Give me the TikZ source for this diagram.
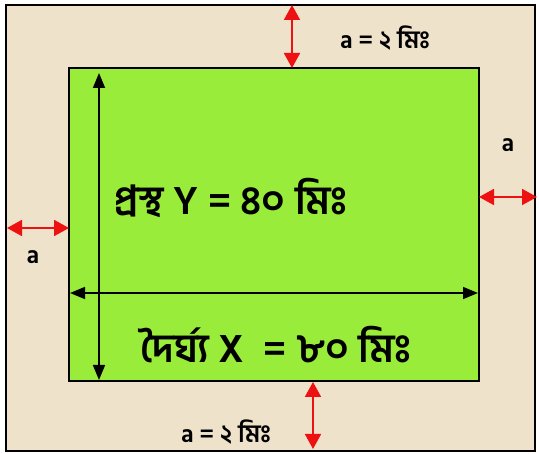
\documentclass[tikz,border=0pt]{standalone}
\usepackage{fontspec}
\usetikzlibrary{arrows.meta}
\newfontfamily\bn[Script=Bengali]{Hind Siliguri}
\definecolor{beige}{HTML}{EEE2CB}
\definecolor{leaf}{HTML}{9AEC3A}
\definecolor{redarr}{HTML}{EE1111}
\tikzset{
  redarrow/.style={draw=redarr, line width=1.8pt, {Triangle[length=15pt,width=16pt]}-{Triangle[length=15pt,width=16pt]}},
  blackarrow/.style={draw=black, line width=1.6pt, {Triangle[length=15pt,width=12pt]}-{Triangle[length=15pt,width=12pt]}},
  lbl/.style={font=\bn\bfseries, text=black, inner sep=0pt},
}
\begin{document}
\begin{tikzpicture}[x=1pt,y=-1pt]
\useasboundingbox (0,0) rectangle (539,454);
\fill[white] (0,0) rectangle (539,454);
\draw[fill=beige, line width=1.2pt] (6,5) rectangle (535,451);
\draw[fill=leaf, line width=1.2pt] (69,68) rectangle (479,381);
% named anchor coordinates
\coordinate (vt) at (99,73);
\coordinate (vb) at (99,380);
\coordinate (hl) at (70,293);
\coordinate (hr) at (478,293);
\coordinate (tt) at (292,5);
\coordinate (tb) at (292,68);
\coordinate (rl) at (479,197);
\coordinate (rr) at (537,197);
\coordinate (ll) at (7,228);
\coordinate (lr) at (69,228);
\coordinate (bt) at (313,382);
\coordinate (bb) at (313,449);
\draw[blackarrow] (vb) -- (vt);
\draw[blackarrow] (hl) -- (hr);
\draw[redarrow] (tt) -- (tb);
\draw[redarrow] (rl) -- (rr);
\draw[redarrow] (ll) -- (lr);
\draw[redarrow] (bt) -- (bb);
\node[lbl, font=\bn\bfseries\fontsize{25}{28}\selectfont] (t1) at (385,38) {a = ২ মিঃ};
\node[lbl, font=\bn\bfseries\fontsize{25}{28}\selectfont] (t2) at (508,145) {a};
\node[lbl, font=\bn\bfseries\fontsize{25}{28}\selectfont] (t3) at (33,257) {a};
\node[lbl, font=\bn\bfseries\fontsize{25}{28}\selectfont] (t4) at (226,432) {a = ২ মিঃ};
\node[lbl, font=\bn\bfseries\fontsize{40}{44}\selectfont] (t5) at (231,198) {প্রস্থ Y = ৪০ মিঃ};
\node[lbl, font=\bn\bfseries\fontsize{40}{44}\selectfont] (t6) at (276,345) {দৈর্ঘ্য X \ = ৮০ মিঃ};
\end{tikzpicture}
\end{document}
